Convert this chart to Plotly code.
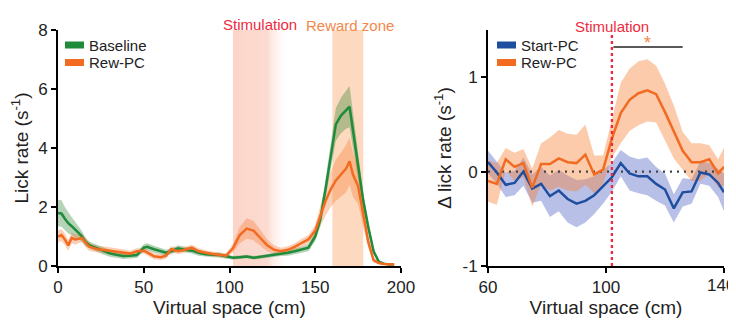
import plotly.graph_objects as go

# ---------------- data ----------------
left_x = [0, 2, 4, 6, 8, 10, 12, 14, 16, 18, 20, 23, 26, 30, 34, 38, 42, 46, 50, 52, 56, 60, 63, 66,
          70, 74, 78, 82, 86, 90, 94, 98, 102, 106, 110, 114, 118, 122, 126, 130, 134, 138, 142, 146,
          150, 153, 156, 159, 162, 165, 168, 170, 172, 175, 178, 181, 184, 187, 190, 193, 196]
baseline = [1.8, 1.78, 1.6, 1.45, 1.35, 1.22, 1.12, 1.0, 0.82, 0.72, 0.66, 0.6, 0.52, 0.43, 0.38, 0.34,
            0.35, 0.37, 0.62, 0.65, 0.57, 0.5, 0.45, 0.5, 0.6, 0.55, 0.52, 0.45, 0.4, 0.38, 0.37, 0.33,
            0.28, 0.3, 0.32, 0.28, 0.31, 0.34, 0.38, 0.42, 0.45, 0.5, 0.55, 0.62, 1.0, 1.6, 2.6, 3.7,
            4.8, 5.1, 5.3, 5.4, 4.6, 3.4, 2.2, 1.3, 0.5, 0.15, 0.08, 0.05, 0.05]
baseline_sem = [0.45, 0.45, 0.4, 0.35, 0.3, 0.28, 0.22, 0.18, 0.15, 0.13, 0.12, 0.12, 0.12, 0.12, 0.1, 0.1,
                0.1, 0.1, 0.12, 0.12, 0.12, 0.1, 0.1, 0.1, 0.1, 0.1, 0.1, 0.1, 0.08, 0.08, 0.08, 0.08,
                0.06, 0.06, 0.06, 0.06, 0.06, 0.06, 0.08, 0.08, 0.1, 0.1, 0.1, 0.12, 0.15, 0.25, 0.35, 0.45,
                0.55, 0.6, 0.65, 0.7, 0.6, 0.45, 0.3, 0.2, 0.1, 0.05, 0.03, 0.02, 0.02]
rew_left = [1.0, 1.05, 0.9, 0.7, 0.95, 0.9, 0.92, 0.95, 0.8, 0.66, 0.62, 0.57, 0.55, 0.52, 0.5, 0.47,
            0.42, 0.5, 0.52, 0.46, 0.33, 0.3, 0.35, 0.57, 0.5, 0.55, 0.62, 0.5, 0.45, 0.41, 0.38, 0.35,
            0.6, 1.05, 1.27, 1.2, 0.95, 0.7, 0.55, 0.5, 0.55, 0.65, 0.78, 0.9, 1.2, 1.7, 2.2, 2.6,
            2.9, 3.1, 3.3, 3.55, 3.1, 2.7, 1.7, 0.8, 0.2, 0.1, 0.07, 0.05, 0.05]
rew_left_sem = [0.2, 0.2, 0.2, 0.18, 0.18, 0.18, 0.15, 0.15, 0.15, 0.14, 0.13, 0.12, 0.12, 0.12, 0.1, 0.1,
                0.1, 0.1, 0.1, 0.1, 0.1, 0.1, 0.1, 0.1, 0.1, 0.1, 0.1, 0.1, 0.08, 0.08, 0.08, 0.08,
                0.15, 0.28, 0.35, 0.33, 0.28, 0.2, 0.15, 0.12, 0.12, 0.12, 0.14, 0.15, 0.2, 0.35, 0.5, 0.6,
                0.7, 0.75, 0.8, 0.8, 0.75, 0.6, 0.4, 0.2, 0.08, 0.04, 0.03, 0.02, 0.02]

right_x = [60, 63, 66, 69, 72, 75, 78, 81, 84, 87, 90, 93, 96, 99, 102, 105, 108, 111, 114, 117,
           120, 123, 126, 129, 132, 135, 138, 140]
start_pc = [0.1, -0.01, -0.14, -0.12, 0.0, -0.18, -0.13, -0.26, -0.2, -0.29, -0.34, -0.31, -0.25, -0.16,
            -0.06, 0.09, -0.02, -0.05, -0.05, -0.13, -0.19, -0.39, -0.22, -0.21, -0.01, -0.03, -0.12, -0.22]
start_pc_sem = [0.12, 0.12, 0.13, 0.13, 0.15, 0.15, 0.18, 0.22, 0.22, 0.25, 0.25, 0.23, 0.2, 0.18,
                0.15, 0.14, 0.18, 0.18, 0.2, 0.18, 0.17, 0.15, 0.15, 0.13, 0.12, 0.12, 0.15, 0.2]
rew_right = [-0.1, -0.13, 0.13, 0.05, 0.09, -0.17, 0.08, 0.08, 0.14, 0.1, 0.09, 0.18, -0.03, 0.02,
             0.35, 0.62, 0.76, 0.83, 0.86, 0.82, 0.63, 0.42, 0.22, 0.1, 0.1, 0.13, -0.02, 0.05]
rew_right_sem = [0.22, 0.22, 0.12, 0.15, 0.15, 0.2, 0.22, 0.28, 0.3, 0.3, 0.3, 0.32, 0.2, 0.15,
                 0.2, 0.32, 0.33, 0.34, 0.33, 0.3, 0.3, 0.28, 0.2, 0.2, 0.2, 0.15, 0.15, 0.2]

left_xticks = [0, 50, 100, 150, 200]
left_yticks = [0, 2, 4, 6, 8]
right_xticks = [60, 100, 140]
right_xticklabels = ["60", "100", "140"]
right_yticks = [-1, 0, 1]
right_yticklabels = ["-1", "0", "1"]

left_legend = ["Baseline", "Rew-PC"]
right_legend = ["Start-PC", "Rew-PC"]

stim_start, stim_end = 102, 135
reward_start, reward_end = 160, 178
stim_line_x = 102
sig_start, sig_end, sig_y = 102.5, 126, 1.32

# ---------------- style ----------------
GREEN = "#1f8b3b"
ORANGE = "#f26b21"
BLUE = "#1f4e9e"
RED = "#ee2a3e"
FONT = "Liberation Sans, Arial, sans-serif"
OFF = 8  # default page body margin
W, H = 736 - OFF, 324 - OFF
ML, MR, MT, MB = 58 - OFF, 12, 30 - OFF, 58
PW, PH = W - ML - MR, H - MT - MB


def px_x(p):
    return (p - OFF - ML) / PW


def px_y(p):
    return (H - MB - (p - OFF)) / PH


fig = go.Figure()


def band(x, y, s, color, xa, ya):
    upper = [a + b for a, b in zip(y, s)]
    lower = [a - b for a, b in zip(y, s)]
    fig.add_trace(go.Scatter(x=x + x[::-1], y=upper + lower[::-1], fill="toself", fillcolor=color,
                             line=dict(width=0), hoverinfo="skip", showlegend=False, xaxis=xa, yaxis=ya))


# stimulation gradient region (left panel)
fig.add_trace(go.Scatter(x=[stim_start, stim_end, stim_end, stim_start, stim_start],
                         y=[0, 0, 8, 8, 0], fill="toself", mode="lines", line=dict(width=0),
                         fillgradient=dict(type="horizontal",
                                           colorscale=[[0, "rgba(251,208,194,0.9)"],
                                                       [0.6, "rgba(251,210,198,0.8)"],
                                                       [1, "rgba(255,255,255,0)"]]),
                         hoverinfo="skip", showlegend=False, xaxis="x", yaxis="y"))

band(left_x, baseline, baseline_sem, "rgba(40,130,50,0.35)", "x", "y")
band(left_x, rew_left, rew_left_sem, "rgba(245,120,50,0.35)", "x", "y")
fig.add_trace(go.Scatter(x=left_x, y=baseline, mode="lines", line=dict(color=GREEN, width=2.5),
                         showlegend=False, xaxis="x", yaxis="y"))
fig.add_trace(go.Scatter(x=left_x, y=rew_left, mode="lines", line=dict(color=ORANGE, width=2.5),
                         showlegend=False, xaxis="x", yaxis="y"))

band(right_x, start_pc, start_pc_sem, "rgba(70,90,195,0.38)", "x2", "y2")
band(right_x, rew_right, rew_right_sem, "rgba(245,130,55,0.42)", "x2", "y2")
fig.add_trace(go.Scatter(x=[60, 140], y=[0, 0], mode="lines",
                         line=dict(color="#444444", width=2.2, dash="2px,5px"),
                         showlegend=False, xaxis="x2", yaxis="y2"))
fig.add_trace(go.Scatter(x=right_x, y=start_pc, mode="lines", line=dict(color=BLUE, width=2.5),
                         showlegend=False, xaxis="x2", yaxis="y2"))
fig.add_trace(go.Scatter(x=right_x, y=rew_right, mode="lines", line=dict(color=ORANGE, width=2.5),
                         showlegend=False, xaxis="x2", yaxis="y2"))
fig.add_trace(go.Scatter(x=[stim_line_x, stim_line_x], y=[-1, 1.47], mode="lines",
                         line=dict(color=RED, width=2.3, dash="3px,3px"),
                         showlegend=False, xaxis="x2", yaxis="y2"))
fig.add_trace(go.Scatter(x=[sig_start, sig_end], y=[sig_y, sig_y], mode="lines",
                         line=dict(color="#222222", width=1.5),
                         showlegend=False, xaxis="x2", yaxis="y2"))

# reward zone
fig.add_shape(type="rect", xref="x", yref="y", x0=reward_start, x1=reward_end, y0=0, y1=8,
              fillcolor="rgba(252,205,170,0.75)", line=dict(width=0), layer="below")

# hand-drawn legends
for labels, colors, sx in [(left_legend, [GREEN, ORANGE], 65), (right_legend, [BLUE, ORANGE], 497)]:
    for i, (lab, col) in enumerate(zip(labels, colors)):
        cy = 45 + i * 17.5
        fig.add_shape(type="rect", xref="paper", yref="paper",
                      x0=px_x(sx), x1=px_x(sx + 19), y0=px_y(cy + 3.5), y1=px_y(cy - 3.5),
                      fillcolor=col, line=dict(width=0))
        fig.add_annotation(text=lab, xref="paper", yref="paper", x=px_x(sx + 22), y=px_y(cy),
                           xanchor="left", yanchor="middle", showarrow=False,
                           font=dict(size=15, color="#222222", family=FONT))

tickfont = dict(size=17, color="#222222", family=FONT)
axis_common = dict(showline=True, linecolor="black", linewidth=2, ticks="outside", ticklen=5,
                   tickwidth=2, tickcolor="black", showgrid=False, zeroline=False, automargin=False,
                   ticklabeloverflow="allow", tickfont=tickfont)
title_font = dict(size=19, color="#222222", family=FONT)

fig.update_layout(
    width=W, height=H,
    margin=dict(l=ML, r=MR, t=MT, b=MB),
    paper_bgcolor="white", plot_bgcolor="white",
    font=dict(family=FONT),
    showlegend=False,
    xaxis=dict(domain=[0, px_x(401)], range=[0, 200], tickvals=left_xticks, anchor="y",
               title=dict(text="Virtual space (cm)", font=title_font, standoff=4), **axis_common),
    yaxis=dict(domain=[0, 1], range=[0, 8], tickvals=left_yticks, anchor="x",
               title=dict(text="Lick rate (s<sup>-1</sup>)", font=title_font, standoff=6), **axis_common),
    xaxis2=dict(domain=[px_x(488), 1], range=[60, 140], tickvals=right_xticks,
                ticktext=right_xticklabels[:-1] + [""], anchor="y2",
                title=dict(text="Virtual space (cm)", font=title_font, standoff=4), **axis_common),
    yaxis2=dict(domain=[0, 1], range=[-1, 1.5], tickvals=right_yticks, ticktext=right_yticklabels,
                anchor="x2",
                title=dict(text="Δ lick rate (s<sup>-1</sup>)", font=title_font, standoff=6), **axis_common),
)

# last x tick label of the right panel, kept inside the window edge
fig.add_annotation(text=right_xticklabels[-1], xref="paper", yref="paper", x=px_x(736), y=px_y(275),
                   xanchor="right", yanchor="top", showarrow=False, font=tickfont,
                   borderpad=0)

fig.add_annotation(text="Stimulation", xref="x", yref="paper", x=118, y=px_y(14), showarrow=False,
                   font=dict(size=15, color=RED, family=FONT))
fig.add_annotation(text="Reward zone", xref="x", yref="paper", x=170, y=px_y(15), showarrow=False,
                   font=dict(size=15, color="#f5874a", family=FONT))
fig.add_annotation(text="Stimulation", xref="x2", yref="paper", x=102, y=px_y(16), showarrow=False,
                   font=dict(size=15, color=RED, family=FONT))
fig.add_annotation(text="*", xref="x2", yref="y2", x=114, y=1.36, showarrow=False,
                   font=dict(size=18, color="#f5874a", family=FONT))

fig.write_html("out.html")
